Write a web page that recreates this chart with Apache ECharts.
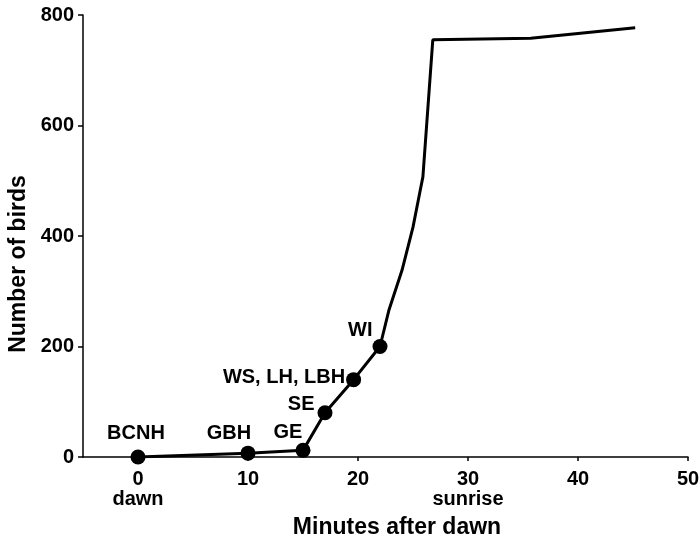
<!DOCTYPE html>
<html lang="en">
<head>
    <meta charset="UTF-8">
    <title>Birds leaving after dawn</title>
    <script type="text/javascript" src="https://cdn.jsdelivr.net/npm/echarts@6/dist/echarts.min.js"></script>
    <style>
        html, body { margin: 0; padding: 0; background: #fff; }
    </style>
</head>
<body>
<div id="myChart" style="width: 700px;height: 544px;"></div>

<script type="text/javascript">
    // minutes after dawn / cumulative number of birds (whole curve)
    var curveX = [0, 10, 15, 17, 19.6, 22, 22.8, 24, 25, 25.6, 25.9, 26.8, 35.7, 45.2];
    var curveY = [0, 7, 12, 80, 140, 200, 265, 338, 416, 477, 507, 755, 758, 777];

    // species departure points
    var speciesNames = ['BCNH', 'GBH', 'GE', 'SE', 'WS, LH, LBH', 'WI'];
    var speciesX = [0, 10, 15, 17, 19.6, 22];
    var speciesY = [0, 7, 12, 80, 140, 200];

    var xTicks = [0, 10, 20, 30, 40, 50];
    var xTickNotes = {0: 'dawn', 30: 'sunrise'};

    var font = '"Liberation Sans", Arial, sans-serif';

    // label placement per point (position, offset)
    var labelPlace = [
        ['top', [-2, -1]],
        ['top', [-19, 3]],
        ['top', [-15, 5]],
        ['left', [2, -8]],
        ['left', [4, -2]],
        ['left', [5, -16]]
    ];

    var myChart = echarts.init(document.getElementById('myChart'));

    var linePts = [];
    for (var i = 0; i < curveX.length; i++) {
        linePts.push([curveX[i], curveY[i]]);
    }
    var dots = [];
    for (var j = 0; j < speciesNames.length; j++) {
        dots.push({
            name: speciesNames[j],
            value: [speciesX[j], speciesY[j]],
            label: {position: labelPlace[j][0], offset: labelPlace[j][1]}
        });
    }

    myChart.setOption({
        animation: false,
        grid: {left: 83, right: 12, top: 15, bottom: 87, outerBoundsMode: 'none'},
        xAxis: {
            type: 'value',
            min: -5,
            max: 50,
            name: 'Minutes after dawn',
            nameLocation: 'middle',
            nameGap: 59,
            nameTextStyle: {
                color: '#000', fontFamily: font, fontWeight: 'bold', fontSize: 23,
                padding: [0, 0, 0, 23]
            },
            splitLine: {show: false},
            axisLine: {onZero: false, lineStyle: {color: '#000', width: 1.5}},
            axisTick: {customValues: xTicks, length: 4, lineStyle: {color: '#000', width: 1.5}},
            axisLabel: {
                customValues: xTicks,
                color: '#000', fontFamily: font, fontWeight: 'bold', fontSize: 20,
                lineHeight: 20, margin: 12,
                formatter: function (v) {
                    return xTickNotes[v] ? v + '\n' + xTickNotes[v] : '' + v;
                }
            }
        },
        yAxis: {
            type: 'value',
            min: 0,
            max: 800,
            interval: 200,
            name: 'Number of birds',
            nameLocation: 'middle',
            nameGap: 52,
            nameTextStyle: {
                color: '#000', fontFamily: font, fontWeight: 'bold', fontSize: 23,
                padding: [0, 56, 0, 0]
            },
            splitLine: {show: false},
            axisLine: {show: true, onZero: false, lineStyle: {color: '#000', width: 1.5}},
            axisTick: {show: true, length: 5, lineStyle: {color: '#000', width: 1.5}},
            axisLabel: {
                color: '#000', fontFamily: font, fontWeight: 'bold', fontSize: 20, margin: 9
            }
        },
        series: [{
            type: 'line',
            data: linePts,
            symbol: 'none',
            lineStyle: {color: '#000', width: 3},
            z: 2
        }, {
            type: 'scatter',
            data: dots,
            symbol: 'circle',
            symbolSize: 15,
            itemStyle: {color: '#000', opacity: 1},
            label: {
                show: true,
                formatter: '{b}',
                color: '#000', fontFamily: font, fontWeight: 'bold', fontSize: 20
            },
            z: 3
        }]
    });
</script>
</body>
</html>
